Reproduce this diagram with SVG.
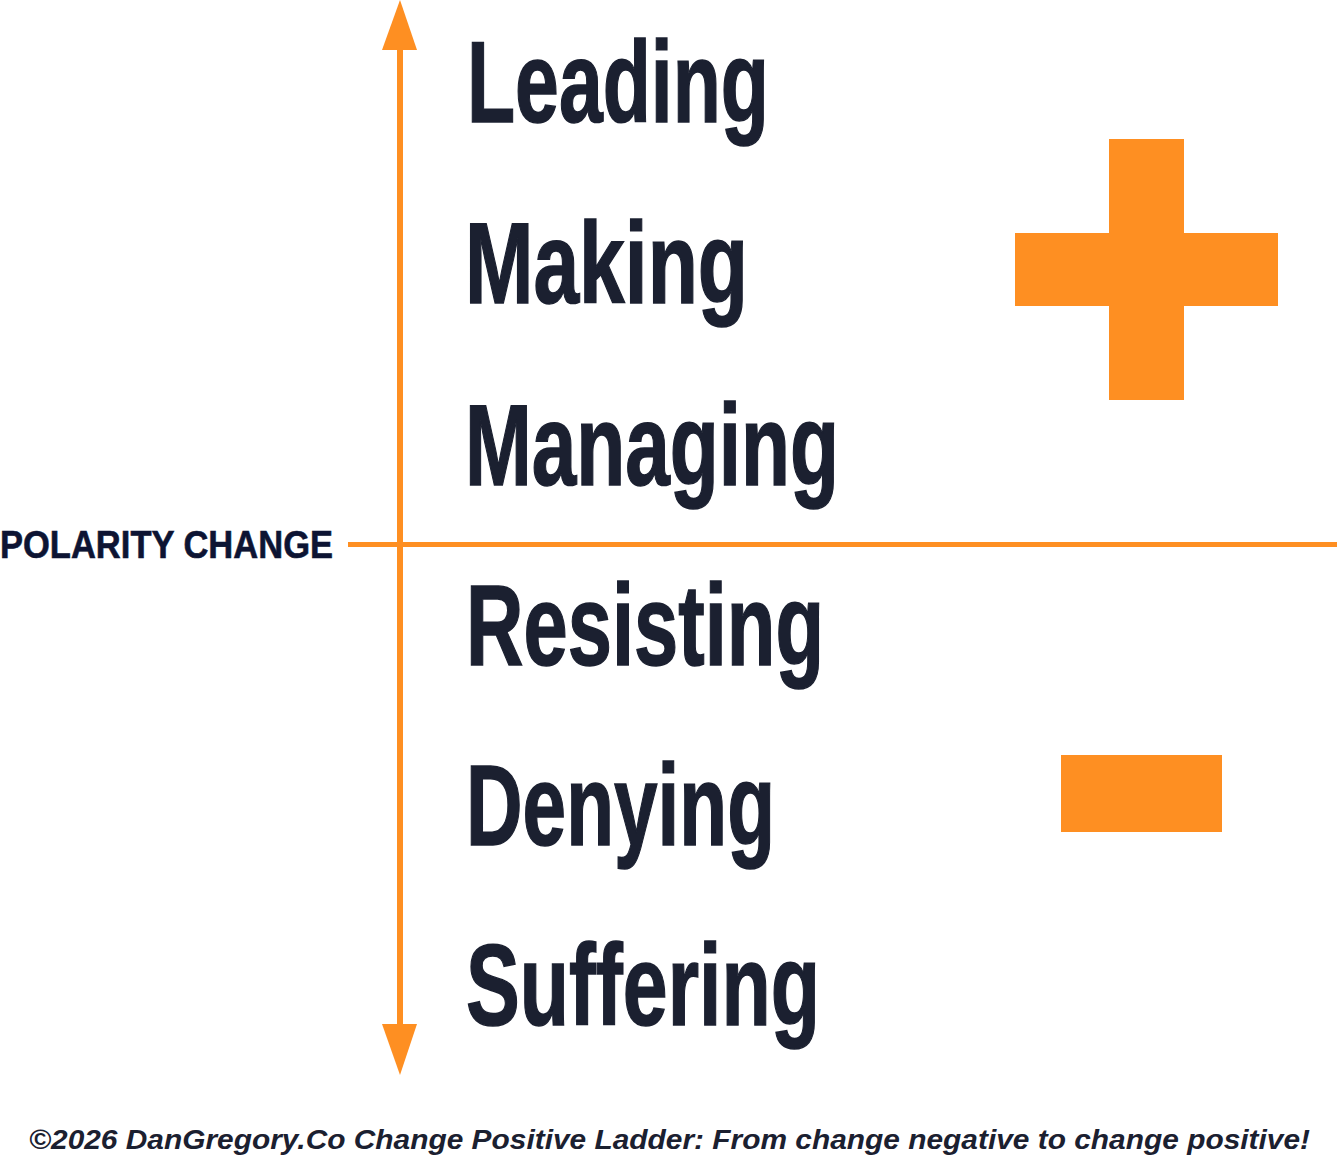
<svg xmlns="http://www.w3.org/2000/svg" width="1337" height="1176" viewBox="0 0 1337 1176">
<style>
.w{font-family:"Liberation Sans",Arial,sans-serif;font-weight:bold;font-size:115px;fill:#1B2030;stroke:#1B2030;stroke-width:1.5px}
.o{fill:#FE8F22}
.ax{stroke:#FE8F22;fill:none}
</style>
<rect width="1337" height="1176" fill="#FFFFFF"/>
<g id="connectors">
<line class="ax" x1="400" y1="45" x2="400" y2="1030" stroke-width="6"/>
<polygon class="o" points="400,0 417,50 382,50"/>
<polygon class="o" points="400,1075 417,1024 382,1024"/>
<line class="ax" x1="348" y1="544.5" x2="1337" y2="544.5" stroke-width="5"/>
</g>
<g id="polarity"><text x="0" y="558" font-family="Liberation Sans,Arial,sans-serif" font-weight="bold" font-size="39" fill="#0D1433" stroke="#0D1433" stroke-width="0.6" textLength="333" lengthAdjust="spacingAndGlyphs">POLARITY CHANGE</text></g>
<g id="leading"><text class="w" x="467" y="122" textLength="302" lengthAdjust="spacingAndGlyphs">Leading</text></g>
<g id="making"><text class="w" x="465" y="303" textLength="283" lengthAdjust="spacingAndGlyphs">Making</text></g>
<g id="managing"><text class="w" x="465" y="485" textLength="374" lengthAdjust="spacingAndGlyphs">Managing</text></g>
<g id="resisting"><text class="w" x="466" y="665" textLength="358" lengthAdjust="spacingAndGlyphs">Resisting</text></g>
<g id="denying"><text class="w" x="466" y="845" textLength="309" lengthAdjust="spacingAndGlyphs">Denying</text></g>
<g id="suffering"><text class="w" x="466" y="1025" textLength="354" lengthAdjust="spacingAndGlyphs">Suffering</text></g>
<g id="plus">
<rect class="o" x="1109" y="139" width="75" height="261"/>
<rect class="o" x="1015" y="233" width="263" height="73"/>
</g>
<g id="minus"><rect class="o" x="1061" y="755" width="161" height="77"/></g>
<g id="footer"><text x="29" y="1149" font-family="Liberation Sans,Arial,sans-serif" font-style="italic" font-weight="bold" font-size="27" fill="#1B2030" textLength="1281" lengthAdjust="spacingAndGlyphs">©2026 DanGregory.Co Change Positive Ladder: From change negative to change positive!</text></g>
</svg>
